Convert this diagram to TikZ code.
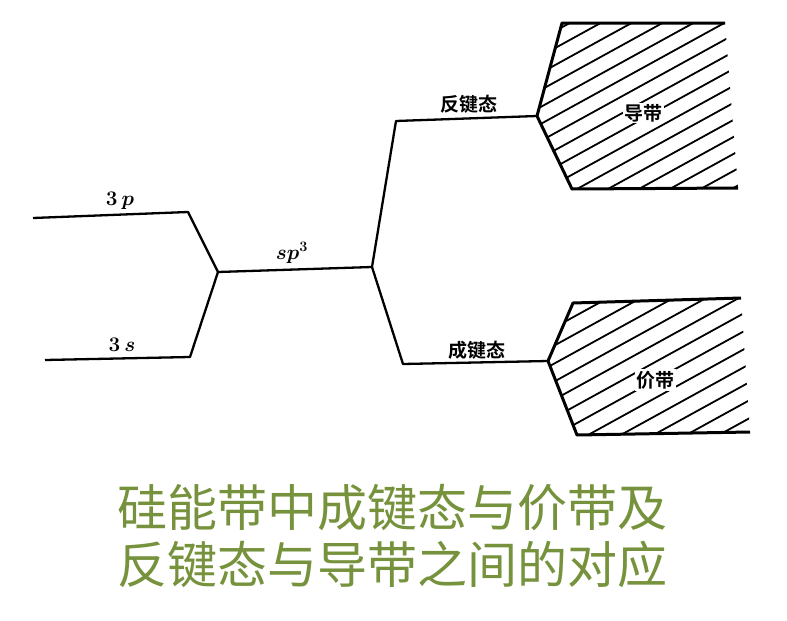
\documentclass[tikz,border=0pt]{standalone}
\usepackage{fontspec}
\usepackage{xcolor}
\usetikzlibrary{calc}
\newfontfamily\cjk[BoldFont={Noto Sans CJK SC Bold}]{Noto Sans CJK SC}
\definecolor{captiongreen}{RGB}{118,146,60}
\begin{document}
\begin{tikzpicture}[x=1pt,y=-1pt]
			\newcommand{\mylevelfont}[1]{
				\fontsize{19}{22}\selectfont{#1}
			}\newcommand{\mymathfont}[1]{
				\fontsize{21}{24}\selectfont{\boldmath #1}
			}\newcommand{\mycaptionfont}[1]{
				\fontsize{50}{56}\selectfont{\cjk #1}
			}%Page frame
			\useasboundingbox (0,0) rectangle (787,621);
			\tikzset{level/.style={line width=2.3pt, line join=round},
				band/.style={line width=3pt, line join=round},
				hatch/.style={line width=1.8pt},
				bandname/.style={fill=white, inner sep=1.5pt}}
			%Atomic levels
			\coordinate (p0) at (33,218);
			\coordinate (p1) at (188,212);
			\coordinate (s0) at (45,360);
			\coordinate (s1) at (190,357);
			%Hybrid level
			\coordinate (h0) at (218,272);
			\coordinate (h1) at (372,267);
			%Antibonding and bonding levels
			\coordinate (a0) at (396,121);
			\coordinate (a1) at (537,116);
			\coordinate (b0) at (403,364);
			\coordinate (b1) at (548,361);
			\draw [level] (p0) -- (p1) -- (h0);
			\draw [level] (s0) -- (s1) -- (h0);
			\draw [level] (h0) -- (h1);
			\draw [level] (h1) -- (a0) -- (a1);
			\draw [level] (h1) -- (b0) -- (b1);
			%Conduction band corners
			\coordinate (cTL) at (562,23);
			\coordinate (cTR) at (725,23);
			\coordinate (cBL) at (572,189);
			\coordinate (cBR) at (738,188);
			%Valence band corners
			\coordinate (vTL) at (573,303);
			\coordinate (vTR) at (741,298);
			\coordinate (vBL) at (577,435);
			\coordinate (vBR) at (750,432);
			%Hatching of the conduction band
			\begin{scope}
				\clip (a1) -- (cTL) -- (cTR) -- (cBR) -- (cBL) -- cycle;
				\foreach \k in {0,...,15} {
					\draw [hatch] (537,41+17*\k) -- ++(240,-132);
				}
			\end{scope}
			%Hatching of the valence band
			\begin{scope}
				\clip (b1) -- (vTL) -- (vTR) -- (vBR) -- (vBL) -- cycle;
				\foreach \k in {-5,...,7} {
					\draw [hatch] (548,421+18*\k) -- ++(240,-132);
				}
			\end{scope}
			%Band outlines
			\draw [band] (cTR) -- (cTL) -- (a1) -- (cBL) -- (cBR);
			\draw [band] (vTR) -- (vTL) -- (b1) -- (vBL) -- (vBR);
			%Level labels
			\node (lab3p) at (120,201) {\mymathfont{$3\,p$}};
			\node (lab3s) at (122,345) {\mymathfont{$3\,s$}};
			\node (labsp) at (292,253) {\mymathfont{$sp^{3}$}};
			\node (labanti) at (469,104) {\mylevelfont{\cjk\bfseries 反键态}};
			\node (labbond) at (477,350) {\mylevelfont{\cjk\bfseries 成键态}};
			%Band labels
			\node [bandname] (labcb) at (643,113) {\mylevelfont{\cjk\bfseries 导带}};
			\node [bandname] (labvb) at (655,380) {\mylevelfont{\cjk\bfseries 价带}};
			%Caption
			\node [text=captiongreen] (cap1) at (392,508) {\mycaptionfont{硅能带中成键态与价带及}};
			\node [text=captiongreen] (cap2) at (392,564) {\mycaptionfont{反键态与导带之间的对应}};
			\end{tikzpicture}
\end{document}
